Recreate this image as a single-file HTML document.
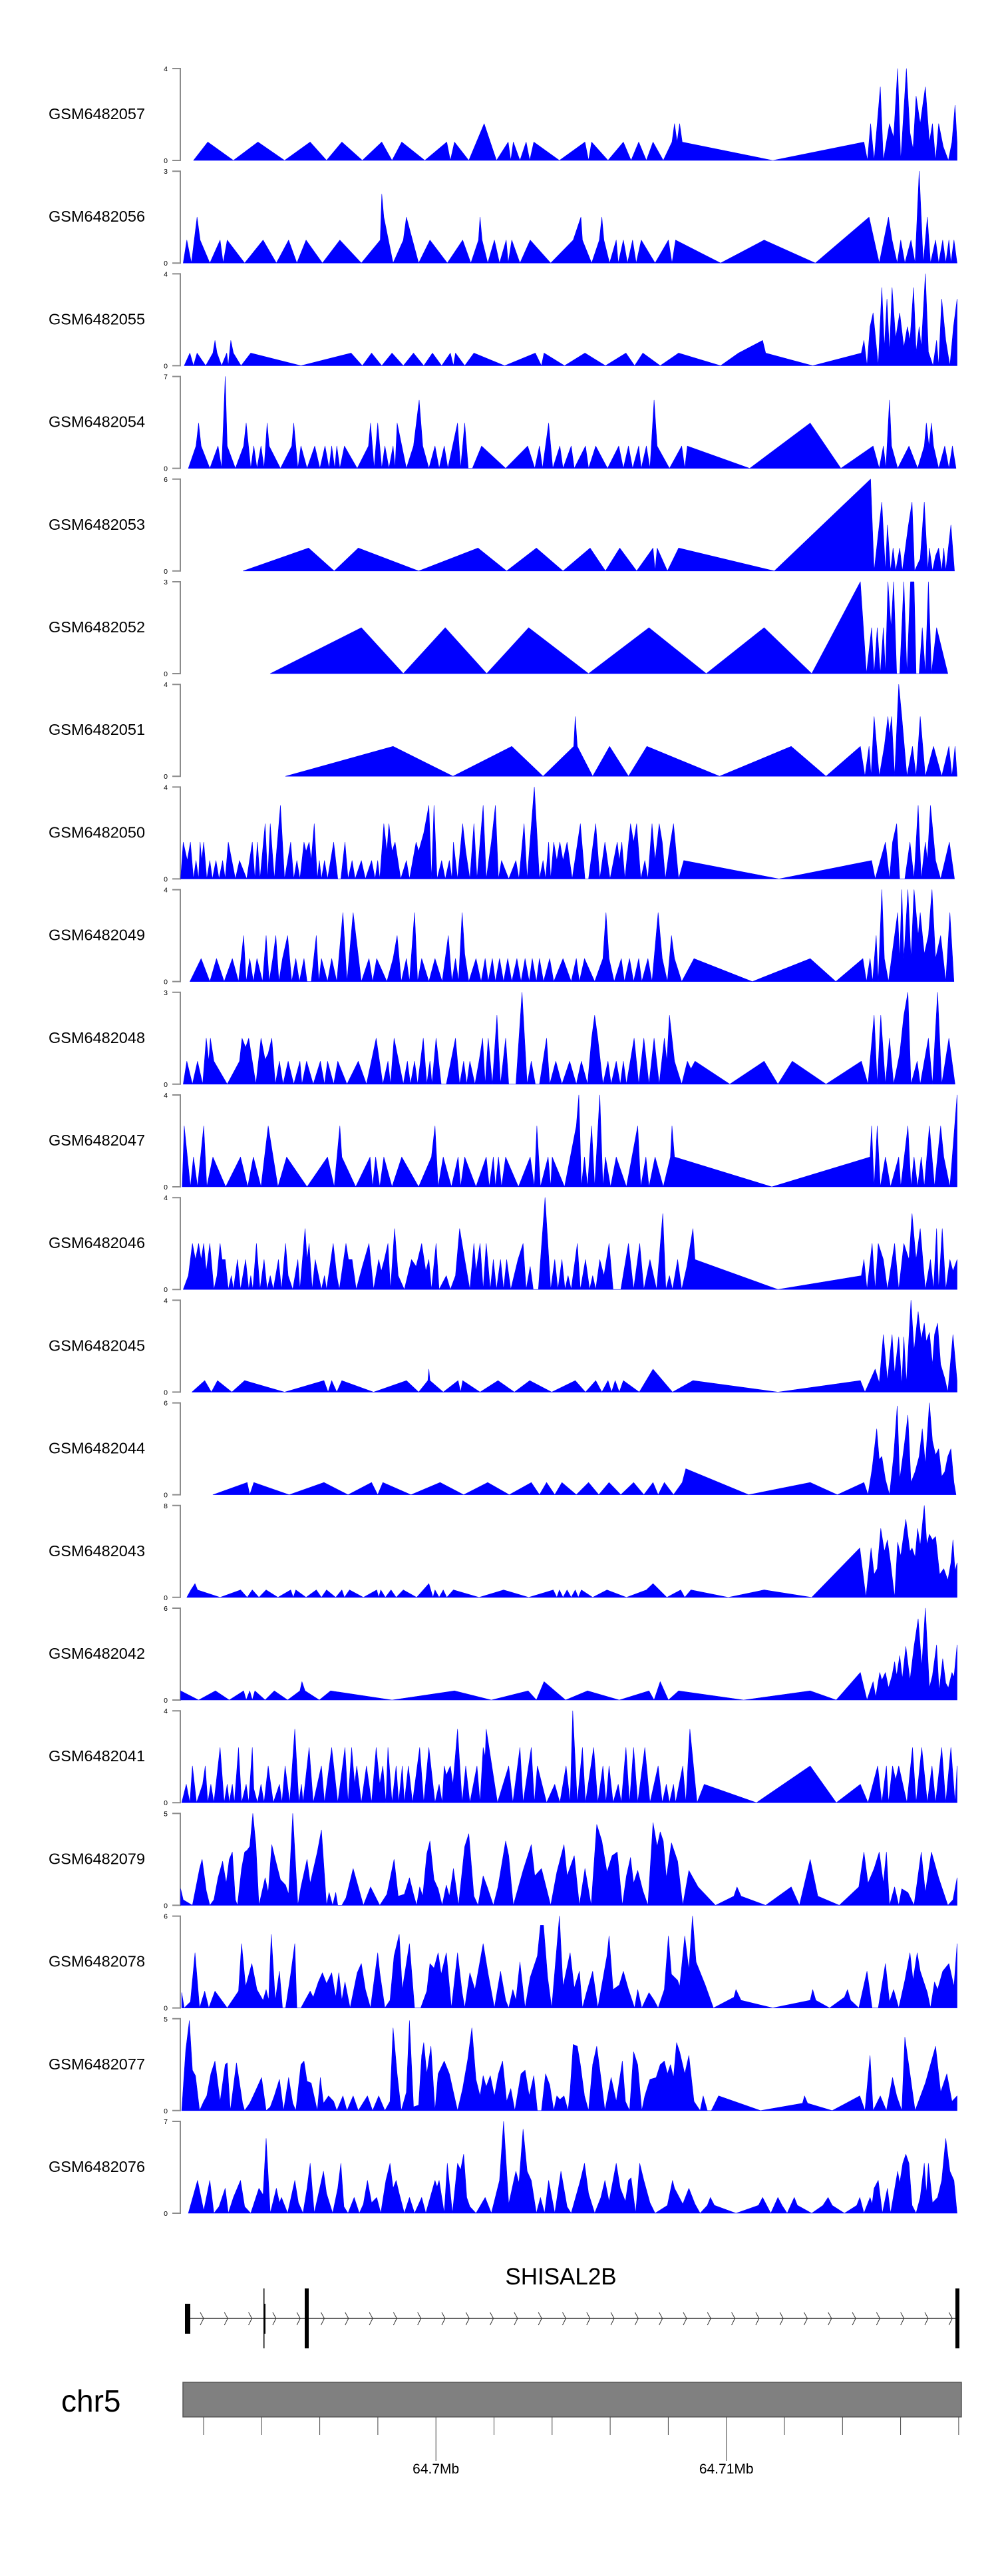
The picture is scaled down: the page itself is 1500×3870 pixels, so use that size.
<!DOCTYPE html>
<html><head><meta charset="utf-8"><title>Coverage tracks SHISAL2B</title>
<style>
html,body{margin:0;padding:0;background:#fff;}
svg{display:block;font-family:"Liberation Sans",Arial,sans-serif;}
</style></head>
<body>
<svg id="chart" xmlns="http://www.w3.org/2000/svg" width="1500" height="3870" viewBox="0 0 1500 3870">
<rect x="0" y="0" width="1500" height="3870" fill="#fff"/>
<g id="tracks"></g>
<g id="gene">
  <text x="843" y="3432" font-size="35" text-anchor="middle" fill="#000">SHISAL2B</text>
  <line x1="282" y1="3483" x2="1439" y2="3483" stroke="#333" stroke-width="1.5"/>
  <g id="chevrons"></g>
  <rect x="278" y="3461" width="8" height="45" fill="#000"/>
  <rect x="396" y="3438" width="1.5" height="90" fill="#000"/>
  <rect x="396" y="3461" width="3" height="45" fill="#000"/>
  <rect x="458" y="3438" width="6" height="90" fill="#000"/>
  <rect x="1436" y="3438" width="6" height="90" fill="#000"/>
</g>
<g id="ideogram">
  <text x="92" y="3623" font-size="46" fill="#000">chr5</text>
  <rect x="275" y="3579" width="1170" height="52" fill="#808080" stroke="#555" stroke-width="1.5"/>
  <g id="gticks"></g>
</g>
</svg>
<script>
// ---- chart data ----
const trackNames = ["GSM6482057","GSM6482056","GSM6482055","GSM6482054","GSM6482053","GSM6482052","GSM6482051","GSM6482050","GSM6482049","GSM6482048","GSM6482047","GSM6482046","GSM6482045","GSM6482044","GSM6482043","GSM6482042","GSM6482041","GSM6482079","GSM6482078","GSM6482077","GSM6482076"];
const trackMax = [4,3,4,7,6,3,4,4,4,3,4,4,4,6,8,6,4,5,6,5,7];

const pos57=[40,68,118,166,218,268,300,330,370,408,428,447,492,535,542,550,578,608,632,655,660,665,678,690,697,705,755,805,812,818,850,880,895,910,925,938,958,975,980,985,990,995,1172,1350,1357,1363,1370,1382,1388,1400,1408,1416,1422,1433,1440,1446,1452,1460,1465,1470,1478,1484,1490,1496,1505,1515,1522,1528,1532];
const val57=[0,.8,0,.8,0,.8,0,.8,0,.8,0,.8,0,.8,0,.8,0,1.6,0,.8,0,.8,0,.8,0,.8,0,.8,0,.8,0,.8,0,.8,0,.8,0,.8,1.6,.8,1.6,.8,0,.8,0,1.6,0,3.2,0,1.6,1,4,0,4,1.2,.5,2.8,1.6,2.4,3.2,.8,1.6,0,1.6,.6,0,.8,2.4,.8];

const pos56=[20,27,36,47,53,72,92,98,106,140,176,202,226,242,260,292,326,368,405,408,412,430,450,456,480,502,536,566,582,597,600,604,615,628,638,651,655,662,678,698,738,782,797,800,818,833,838,842,853,866,870,880,888,898,905,915,942,968,975,982,1070,1155,1255,1360,1380,1398,1405,1415,1422,1430,1442,1450,1458,1466,1474,1480,1490,1496,1504,1510,1516,1520,1526,1532];
const val56=[0,.75,0,1.5,.75,0,.75,0,.75,0,.75,0,.75,0,.75,0,.75,0,.75,2.25,1.5,0,.75,1.5,0,.75,0,.75,0,.75,1.5,.75,0,.75,0,.75,0,.75,0,.75,0,.75,1.5,.75,0,.75,1.5,.75,0,.75,0,.75,0,.75,0,.75,0,.75,0,.75,0,.75,0,1.5,0,1.5,.75,0,.75,0,.75,0,3,0,1.5,0,.75,0,.75,0,.75,0,.75,0];

const pos55=[22,33,40,47,64,78,82,86,95,105,108,113,118,133,152,250,348,370,388,408,428,450,470,490,507,525,542,548,552,570,588,648,708,720,725,765,805,845,885,902,918,952,988,1070,1105,1152,1158,1250,1345,1350,1356,1362,1368,1378,1385,1390,1395,1400,1405,1412,1420,1428,1435,1440,1447,1452,1458,1462,1470,1476,1485,1492,1496,1502,1510,1518,1525,1532];
const val55=[0,.55,0,.55,0,.55,1.1,.55,0,.55,0,1.1,.55,0,.55,0,.55,0,.55,0,.55,0,.55,0,.55,0,.55,0,.55,0,.55,0,.55,0,.55,0,.55,0,.55,0,.55,0,.55,0,.55,1.1,.55,0,.55,1.1,0,1.7,2.3,0,3.4,.8,2.9,.6,3.4,1.2,2.3,.8,1.7,1.1,3.4,.6,1.7,.8,4,.6,0,1.1,0,2.9,1.1,0,1.7,2.9];

const pos54=[30,45,50,55,72,88,95,102,106,122,138,143,152,158,164,172,178,184,188,210,232,236,244,250,262,277,287,297,305,310,316,320,326,335,360,382,386,393,400,408,414,422,430,434,438,456,470,481,488,500,512,520,530,537,556,562,570,577,585,603,650,693,707,716,722,734,742,756,762,778,784,806,812,826,849,871,880,890,898,910,915,925,932,940,946,970,994,1000,1005,1127,1245,1305,1368,1380,1388,1393,1400,1404,1416,1438,1455,1468,1472,1477,1482,1486,1496,1508,1516,1523,1530];
const val54=[0,1.7,3.45,1.7,0,1.7,0,7,1.7,0,1.7,3.45,0,1.7,0,1.7,0,3.45,1.7,0,1.7,3.45,0,1.7,0,1.7,0,1.7,0,1.7,0,1.7,0,1.7,0,1.7,3.45,0,3.45,0,1.7,0,1.7,0,3.45,0,1.7,5.2,1.7,0,1.7,0,1.7,0,3.45,0,3.45,0,0,1.7,0,1.7,0,1.7,0,3.45,0,1.7,0,1.7,0,1.7,0,1.7,0,1.7,0,1.7,0,1.7,0,1.7,0,5.2,1.7,0,1.7,0,1.7,0,3.45,0,1.7,0,1.7,0,5.2,1.7,0,1.7,0,1.7,3.45,1.7,3.45,1.7,0,1.7,0,1.7,0];

const pos53=[137,265,315,362,480,596,652,710,762,815,845,873,906,938,942,946,966,988,1175,1363,1370,1385,1392,1396,1402,1407,1412,1420,1425,1437,1444,1449,1460,1468,1475,1478,1484,1490,1496,1502,1506,1510,1520,1527];
const val53=[0,1.5,0,1.5,0,1.5,0,1.5,0,1.5,0,1.5,0,1.5,0,1.5,0,1.5,0,6,0,4.5,0,3,0,1.5,0,1.5,0,3,4.5,0,.8,4.5,0,1.5,0,1,1.5,0,1.5,0,3,0];

const pos52=[190,368,450,532,613,695,812,930,1042,1155,1248,1343,1355,1365,1370,1376,1382,1388,1392,1397,1403,1408,1414,1420,1428,1434,1441,1448,1452,1458,1464,1470,1476,1482,1492,1514];
const val52=[0,1.5,0,1.5,0,1.5,0,1.5,0,1.5,0,3,0,1.5,0,1.5,0,1.5,0,3,1.5,3,0,0,3,0,3,3,0,0,1.5,0,3,0,1.5,0];

const pos51=[220,430,547,662,723,783,786,790,820,853,890,926,1068,1208,1276,1343,1352,1360,1364,1370,1380,1390,1397,1400,1404,1410,1418,1424,1434,1445,1452,1460,1470,1486,1502,1516,1522,1528,1532];
const val51=[0,1.3,0,1.3,0,1.3,2.6,1.3,0,1.3,0,1.3,0,1.3,0,1.3,0,1.3,0,2.6,0,1.3,2.6,1.8,2.6,0,4,2.6,0,1.3,0,2.6,0,1.3,0,1.3,0,1.3,0];

const pos50=[15,20,28,34,40,45,50,53,56,60,66,72,77,84,90,97,102,108,122,130,144,155,160,165,170,180,185,190,198,210,218,230,236,242,248,256,260,266,270,276,282,286,290,296,302,314,322,328,336,342,350,356,368,376,388,395,400,404,412,418,422,428,434,445,456,462,475,480,490,500,505,510,516,525,532,540,545,548,556,566,572,580,588,594,606,612,622,630,636,642,656,670,676,686,692,706,716,723,728,734,738,744,750,756,762,770,780,796,805,812,826,834,844,854,868,872,877,883,894,900,906,914,922,928,936,942,950,956,962,972,978,988,998,1184,1365,1372,1392,1400,1406,1414,1420,1430,1440,1448,1456,1462,1470,1474,1480,1490,1500,1517,1527];
const val50=[0,1.6,.8,1.6,0,.8,0,1.6,.8,1.6,0,.8,0,.8,0,.8,0,1.6,0,.8,0,1.6,0,1.6,0,2.4,0,2.4,0,3.2,0,1.6,0,.8,0,1.6,1.2,1.6,.8,2.4,0,.8,0,.8,0,1.6,0,0,1.6,0,.8,0,.8,0,.8,0,.8,0,2.4,1.2,2.4,1.2,1.6,0,.8,0,1.6,1.2,2,3.2,0,3.2,0,.8,0,.8,0,1.6,0,2.4,1.2,0,2.4,0,3.2,0,1.6,3.2,0,.8,0,.8,0,2.4,0,4,0,.8,0,1.6,0,1.6,.8,1.6,.8,1.6,0,2.4,0,0,2.4,0,1.6,0,1.6,.8,1.6,0,2.4,1.6,2.4,0,.8,0,2.4,.8,2.4,1.6,0,1.6,2.4,0,.8,0,.8,0,1.6,0,1.6,2.4,0,0,1.6,0,3.2,0,1.6,.8,3.2,.8,0,1.6,0];

const pos49=[33,55,72,85,100,116,128,138,143,150,157,164,175,182,188,195,201,207,214,224,232,240,247,256,262,270,280,285,290,302,310,320,332,340,352,368,383,390,398,418,430,438,446,456,462,472,478,486,500,512,526,538,545,552,558,565,570,578,592,602,610,616,624,630,638,646,654,662,672,680,688,696,702,710,716,724,736,744,762,778,788,794,804,824,840,846,852,862,876,882,892,900,910,916,928,936,948,956,966,974,980,994,1018,1132,1245,1295,1348,1355,1362,1367,1374,1378,1385,1390,1398,1410,1416,1420,1424,1428,1436,1442,1448,1456,1460,1468,1476,1483,1490,1500,1505,1510,1518,1526];
const val49=[0,1,0,1,0,1,0,2,0,1,0,1,0,2,0,1,2,0,1,2,0,1,0,1,0,0,2,0,1,0,1,0,3,0,3,0,1,0,1,0,1,2,0,1,0,3,0,1,0,1,0,2,0,1,0,3,1.2,0,1,0,1,0,1,0,1,0,1,0,1,0,1,0,1,0,1,0,1,0,1,0,1,0,1,0,1,3,1,0,1,0,1,0,1,0,1,0,3,1,0,2,1,0,1,0,1,0,1,0,1,0,2,0,4,1,0,2,3,1,4,1,4,1,4,2,3,1.2,2,4,1,2,1,0,3,0];

const pos48=[20,27,38,48,58,65,70,73,80,106,130,135,142,148,162,172,180,186,193,200,208,215,225,236,248,252,261,274,288,296,302,314,322,340,362,378,397,410,420,425,432,450,458,464,472,478,489,496,502,506,514,524,534,552,560,568,574,580,590,598,605,610,616,624,633,640,650,656,670,682,692,700,708,716,730,736,748,760,775,788,798,810,818,824,830,840,850,856,866,874,880,886,901,910,920,930,940,950,960,965,970,980,994,1005,1012,1020,1088,1155,1182,1210,1276,1345,1358,1370,1376,1383,1392,1400,1408,1420,1428,1436,1442,1454,1460,1476,1484,1494,1502,1516,1528];
const val48=[0,.75,0,.75,0,1.5,.75,1.5,.75,0,.75,1.5,1.2,1.5,0,1.5,.8,1,1.5,0,.75,0,.75,0,.75,0,.75,0,.75,0,.75,0,.75,0,.75,0,1.5,0,.75,0,1.5,0,.75,0,.75,0,1.5,0,.75,0,1.5,0,0,1.5,0,.75,0,.75,0,.75,1.5,0,1.5,0,2.25,0,1.5,0,0,3,0,.75,0,0,1.5,0,.75,0,.75,0,.75,0,1.5,2.25,1.5,0,.75,0,.75,0,.75,0,1.5,0,1.5,0,1.5,0,1.5,.75,2.25,.75,0,.75,.5,.75,0,.75,0,.75,0,.75,0,2.25,0,2.25,0,1.5,0,1,2.25,3,0,.75,0,1.5,0,3,0,1.5,0];

const pos47=[18,22,34,40,48,60,66,78,103,132,146,157,172,186,205,222,262,302,315,326,330,357,385,390,396,404,412,428,447,480,505,512,518,528,544,557,562,570,592,612,618,626,630,636,642,650,675,698,706,711,718,733,738,741,765,788,793,798,804,810,818,824,834,840,845,855,866,886,908,914,924,930,942,958,972,975,980,1170,1362,1365,1370,1376,1382,1392,1402,1418,1422,1436,1442,1448,1455,1462,1468,1478,1488,1500,1506,1518,1532];
const val47=[0,2.65,0,1.3,0,2.65,0,1.3,0,1.3,0,1.3,0,2.65,0,1.3,0,1.3,0,2.65,1.3,0,1.3,0,1.3,0,1.3,0,1.3,0,1.3,2.65,0,1.3,0,1.3,0,1.3,0,1.3,0,1.3,0,1.3,0,1.3,0,1.3,0,2.65,0,1.3,0,1.3,0,2.65,4,0,1.3,0,2.65,0,4,0,1.3,0,1.3,0,2.65,0,1.3,0,1.3,0,1.3,2.65,1.3,0,1.3,2.65,0,2.65,0,1.3,0,1.3,0,2.65,0,1.3,0,1.3,0,2.65,0,2.65,1.3,0,4];

const pos46=[20,30,38,44,50,55,60,65,72,80,86,92,96,102,108,114,118,126,132,142,148,152,156,163,170,178,184,190,196,206,212,220,225,234,244,248,258,262,266,272,278,290,296,300,313,320,325,338,343,350,358,370,383,392,402,407,413,420,425,433,440,452,466,475,486,494,500,505,514,520,534,542,552,560,570,580,588,592,600,606,612,620,626,632,640,646,652,660,674,684,690,698,704,714,727,738,746,752,760,766,772,778,790,796,806,814,820,826,834,842,852,860,875,890,900,912,920,932,945,957,963,970,976,986,994,1004,1016,1020,1182,1345,1350,1356,1366,1372,1378,1388,1396,1410,1418,1428,1438,1444,1452,1460,1470,1480,1486,1492,1496,1503,1510,1518,1524,1532];
const val46=[0,.6,2,1.3,2,1.3,2,.8,2,0,.6,2,1.3,1.3,0,.6,0,1.3,0,1.3,0,.6,0,2,0,1.3,0,.6,0,1.3,0,2,.6,0,1.3,0,2.65,1.3,2,0,1.3,0,.6,0,2,.6,0,2,1.3,1.3,0,1,2,0,1.3,.8,1.3,2,0,2.65,.6,0,1.3,1,2,.8,1.3,0,2,0,.6,0,.6,2.65,1.3,0,2,.8,2,0,2,0,1.3,0,1.3,0,1.3,0,1.3,2,0,1,0,0,4,0,1.3,0,1.3,0,.6,0,2,0,1.3,0,.6,0,1.3,.6,2,0,0,2,0,2,0,1.3,0,3.3,0,.6,0,1.3,0,1,2.65,1.3,0,.6,1.3,0,2,0,2,1.3,0,2,0,2,1.3,3.3,1.3,2.65,0,1.3,0,2.65,0,2.65,0,1.3,.8,1.3];

const pos45=[37,62,75,87,115,140,218,295,303,310,320,330,392,456,480,498,500,502,528,557,562,566,600,635,667,697,740,786,806,826,838,850,857,864,872,880,911,938,976,1016,1182,1343,1352,1372,1380,1388,1396,1405,1410,1418,1424,1428,1433,1442,1448,1456,1462,1468,1472,1478,1484,1488,1494,1500,1508,1514,1524,1532];
const val45=[0,.5,0,.5,0,.5,0,.5,0,.5,0,.5,0,.5,0,.5,1,.5,0,.5,0,.5,0,.5,0,.5,0,.5,0,.5,0,.5,0,.5,0,.5,0,1,0,.5,0,.5,0,1,.4,2.5,.5,2.5,.8,2.4,.3,2.4,.4,4,1.8,3.5,2.3,3,2.2,2.6,1.2,2.5,3,1.2,.6,0,2.5,.5];

const pos44=[78,145,150,158,227,295,342,388,400,410,465,522,568,615,657,700,716,730,746,760,788,812,832,852,875,900,920,938,948,960,978,995,1002,1125,1245,1298,1350,1358,1366,1375,1380,1385,1392,1400,1408,1415,1420,1428,1436,1442,1450,1458,1464,1470,1478,1484,1490,1496,1502,1508,1514,1520,1526,1530];
const val44=[0,.8,0,.8,0,.8,0,.8,0,.8,0,.8,0,.8,0,.8,0,.8,0,.8,0,.8,0,.8,0,.8,0,.8,0,.8,0,.8,1.7,0,.8,0,.8,0,1.7,4.3,2.3,2.5,1,0,2.5,5.8,1,3,5.2,.8,1.5,2.5,4.3,2,6,3.5,2.6,3,1.2,1.5,2.5,3,.8,0];

const pos43=[27,35,43,48,92,132,145,155,168,182,205,230,235,240,260,280,290,300,318,330,335,345,372,398,402,406,415,426,436,450,476,500,508,512,520,528,535,548,598,646,695,743,750,755,762,770,778,786,792,798,820,848,886,925,938,965,992,1000,1012,1085,1155,1248,1342,1354,1364,1370,1376,1383,1390,1396,1402,1410,1416,1422,1426,1432,1440,1444,1450,1455,1460,1468,1473,1478,1484,1490,1498,1506,1514,1520,1524,1528,1532];
const val43=[0,.65,1.2,.65,0,.65,0,.65,0,.65,0,.65,0,.65,0,.65,0,.65,0,.65,0,.65,0,.65,0,.65,0,.65,0,.65,0,1.2,0,.65,0,.65,0,.65,0,.65,0,.65,0,.65,0,.65,0,.65,0,.65,0,.65,0,.65,1.2,0,.65,0,.65,0,.65,0,4.3,0,4.3,2,2.5,6,4,5,3,0,4.8,3.6,4.9,6.8,4,4.3,3.5,6,4.5,8,4.6,5.5,5,5.3,2,2.5,1.5,3,5,2.3,3];

const pos42=[15,50,83,110,138,143,150,155,160,180,198,224,248,252,258,286,308,428,550,622,694,710,725,767,810,872,930,940,952,968,988,1115,1245,1296,1343,1356,1368,1373,1381,1385,1392,1398,1405,1410,1414,1420,1425,1432,1440,1448,1456,1463,1470,1478,1484,1492,1497,1504,1510,1515,1522,1526,1532];
const val42=[.6,0,.6,0,.6,0,.6,0,.6,0,.6,0,.6,1.2,.6,0,.6,0,.6,0,.6,0,1.2,0,.6,0,.6,0,1.2,0,.6,0,.6,0,1.8,0,1.2,.2,1.8,1.3,1.8,.8,1.6,2.5,1.6,2.9,1.4,3.5,1.3,3.5,5.3,2.2,6,.8,1.6,3.6,.6,2.7,1.1,.8,1.8,1.5,3.6];

const pos41=[17,26,33,38,46,58,63,68,74,80,92,100,106,110,116,120,128,134,143,148,155,158,165,172,178,186,196,208,213,219,228,238,246,251,254,266,274,290,296,310,322,336,342,349,355,359,368,378,388,397,404,410,416,420,428,436,441,448,452,460,468,482,490,500,512,520,526,530,534,542,547,556,565,572,580,594,600,606,610,612,634,656,664,678,684,700,706,712,730,746,756,768,776,781,790,800,806,822,830,840,846,852,860,870,876,885,892,900,908,922,932,948,956,964,970,978,982,996,1002,1010,1024,1038,1140,1245,1296,1343,1358,1377,1385,1394,1398,1406,1412,1418,1434,1445,1452,1463,1474,1483,1490,1502,1510,1520,1528,1532];
const val41=[0,.8,0,1.6,0,.8,1.6,0,.8,0,2.4,0,.8,0,.8,0,2.4,0,.8,0,2.4,.6,0,.8,0,1.6,0,.8,0,1.6,0,3.2,0,.8,0,2.4,0,1.6,0,2.4,0,2.4,0,2.4,.8,1.6,0,1.6,0,2.4,.8,1.6,0,2.4,0,1.6,0,1.6,0,1.6,0,2.4,0,2.4,0,.8,0,1.6,1.2,1.6,.8,3.2,0,1.6,0,1.6,0,2.4,2,3.2,0,1.6,0,2.4,0,2.4,0,1.6,0,.8,0,1.6,0,4,0,2.4,0,2.4,0,1.6,0,1.6,0,.8,0,2.4,0,2.4,0,2.4,0,1.6,0,.8,0,.8,0,1.6,0,3.2,0,.8,0,1.6,0,.8,0,1.6,0,1.6,0,1.6,1,1.6,0,2.4,0,2.4,0,1.6,0,2.4,0,2.4,0,1.6];

const pos79=[15,20,38,52,57,65,72,80,88,97,104,110,116,122,126,134,140,145,150,156,162,168,176,180,186,193,200,210,220,226,234,244,250,262,268,282,290,300,305,312,318,322,330,338,352,362,372,386,404,418,432,440,452,462,470,476,482,488,496,502,510,518,526,534,540,548,558,570,578,588,596,606,614,626,635,650,656,665,684,700,707,720,738,750,764,770,784,794,805,817,828,838,848,858,868,878,886,894,900,908,918,928,938,946,952,958,964,974,986,996,1008,1026,1060,1096,1102,1110,1158,1208,1224,1245,1260,1302,1340,1350,1358,1370,1380,1388,1394,1400,1410,1418,1424,1436,1448,1462,1470,1482,1496,1514,1524,1532];
const val79=[.9,.3,0,2,2.5,.8,0,.3,1.5,2.4,1.2,2.5,2.9,.3,0,2,2.9,3,3.2,5,3.3,0,1,1.5,.7,3.3,2.5,1.4,1.1,.6,5,0,1,2.5,1.2,2.9,4.1,0,.7,0,.7,0,0,.4,2,1,0,1,0,.6,2.5,.5,.6,1.5,.6,0,1,.5,2.8,3.5,1.4,.9,0,1.1,.5,2,0,3.2,3.9,.5,0,1.6,1,0,1,3.5,2.7,0,1.9,3.3,1.6,2,0,1.8,3.3,1.6,2.7,0,2,0,4.4,3.5,1.8,2.7,2.9,0,1.6,2.6,1.2,1.9,.8,0,4.5,3.2,4,3.5,1.5,3.4,2.4,0,1.9,1,0,.5,1,.5,0,1,0,2.5,.5,0,1,2.9,1.2,2,2.9,1.2,2.9,0,1,0,.9,.7,0,2.9,.7,2.9,1.5,0,.3,1.5];

const pos78=[17,22,34,43,52,62,70,82,106,128,134,142,154,164,176,182,187,192,200,208,214,220,230,238,242,250,258,268,274,284,292,300,310,318,324,330,336,346,360,368,376,386,400,404,414,424,432,442,448,462,472,484,496,502,510,518,524,534,544,556,565,570,580,590,606,616,628,640,650,656,664,670,678,688,698,712,718,724,732,740,755,762,776,784,794,800,808,820,830,848,852,860,872,880,890,902,908,916,930,940,948,960,968,974,986,990,1000,1008,1015,1022,1040,1056,1096,1100,1110,1172,1245,1250,1256,1283,1312,1318,1324,1340,1356,1366,1378,1392,1400,1408,1418,1430,1440,1446,1454,1460,1474,1480,1488,1494,1504,1516,1526,1532];
const val78=[1,0,.4,3.6,0,1.1,0,1.1,0,1.1,4.2,1.4,2.9,1.2,.5,1.2,.5,4.8,.5,2.4,0,0,2.2,4.2,0,0,.5,1.1,.7,1.7,2.3,1.6,2.3,.7,2.3,.5,1.7,0,2.3,2.9,1.2,0,3.6,2.3,0,.5,3.4,4.8,1.2,4.2,0,0,1.1,2.9,2.6,3.6,2.2,3.6,0,3.6,1,0,2.3,1.2,4.2,2.2,0,2.4,.5,0,1.2,.5,3,0,2,3.4,5.4,5.4,2,0,6,1.4,3.6,1.3,2.4,0,1,2.4,0,3.4,4.7,1.2,1.5,2.4,1.2,0,1.2,0,1,.5,0,1.2,4.7,2.2,1.8,1.4,4.7,2.5,6,3,1.5,0,.7,1.2,.5,0,.5,1.2,.5,0,.7,1.2,.5,0,2.4,0,0,2.9,.4,1.2,0,1.8,3.6,1.8,3.6,2.4,1,0,1.7,1.2,2.4,2.9,1.4,4.2];

const pos77=[17,25,32,38,44,52,60,66,74,82,92,102,106,112,124,136,140,150,160,173,182,190,198,208,216,226,234,240,250,256,262,270,282,288,294,304,314,320,332,340,352,362,380,390,402,414,424,430,438,446,456,462,470,480,486,490,496,504,512,518,530,540,548,556,566,576,584,592,600,606,612,620,628,636,644,652,660,668,680,688,696,705,712,720,728,736,744,750,756,764,772,776,782,790,796,804,812,820,828,836,844,856,866,878,884,892,900,908,916,922,932,944,952,960,966,972,978,984,990,1000,1008,1018,1030,1036,1044,1052,1066,1148,1230,1234,1240,1288,1342,1352,1362,1368,1382,1394,1406,1414,1424,1430,1440,1450,1470,1490,1500,1512,1522,1532];
const val77=[0,3.3,4.9,2.2,1.9,0,.5,.8,2,2.7,.5,2.5,2.6,0,2.6,.4,0,.4,1,1.8,0,.2,.8,1.7,0,1.8,.4,0,2.5,2.7,1.6,1.5,0,1.8,.4,.8,.5,0,.8,0,.8,0,.8,0,.8,0,.5,4.5,2,0,1,4.9,.2,.3,3,3.7,2,3.5,0,2,2.7,2,1,0,1.2,2.8,4.5,1.7,.8,1.9,1.3,1.9,.8,2,2.7,.5,1.2,0,2,2.2,.8,1.9,0,0,2,1.4,0,.8,.6,.8,0,1.1,3.6,3.5,2.5,.8,0,2.5,3.5,1.8,0,1.8,.5,2.7,.5,0,3.2,2.5,0,.8,1.7,1.8,2.5,2.7,2,2.5,1.8,3.7,3.2,2,3,.5,0,.8,0,0,.8,0,.4,.8,.4,0,.8,0,3,0,.8,0,1.8,.8,0,4,2,0,1.5,3.5,1,2,.5,.8];

const pos76=[30,48,60,72,80,90,102,108,118,132,140,152,168,176,182,190,202,208,212,224,238,245,254,262,268,276,294,300,312,322,328,334,342,354,364,372,380,388,398,406,416,424,430,436,442,452,462,472,486,494,512,516,520,530,536,546,556,562,568,574,580,592,610,622,638,646,656,666,670,676,684,692,700,710,718,726,734,746,758,770,778,796,804,812,824,836,844,852,866,874,884,890,895,904,912,920,932,942,966,976,980,996,1008,1020,1030,1044,1050,1058,1100,1144,1152,1168,1182,1190,1200,1214,1220,1248,1270,1280,1288,1312,1336,1342,1350,1362,1366,1370,1378,1386,1396,1402,1416,1420,1426,1432,1438,1444,1452,1460,1468,1472,1476,1484,1494,1502,1510,1518,1526,1532];
const val76=[0,2.5,.2,2.5,0,.5,1.9,0,1.2,2.5,.5,0,1.9,1.4,5.7,0,1.9,.8,1.2,0,2.5,.8,0,1.9,3.8,0,3.2,1.5,0,1.9,3.8,.5,0,1.2,0,.7,2.5,.8,1.2,0,2.5,3.8,1.9,2.5,1.5,0,1.2,0,1.2,0,2.5,2,2.5,0,3.8,0,3.8,3.3,4.5,1.2,.5,0,1.2,0,2.5,7,.7,2.5,3.2,2.3,6.4,3.2,2.5,0,1.2,0,2.5,0,3.2,.5,0,2.5,3.8,1.5,0,1.2,2.5,.9,3.8,1.9,.9,2.5,2.7,0,3.8,2.5,.8,0,.6,2.5,1.9,.7,1.9,.7,0,.6,1.2,.6,0,.6,1.2,0,1.2,.6,0,1.2,.6,0,.6,1.2,.6,0,.6,1.2,0,1.2,.7,1.9,2.5,0,1.9,0,3.2,2.3,3.8,4.5,3.8,.6,0,1.2,3.8,1.5,3.8,.8,1.2,2.5,5.7,3.2,2.5,0];

const trackPos=[pos57,pos56,pos55,pos54,pos53,pos52,pos51,pos50,pos49,pos48,pos47,pos46,pos45,pos44,pos43,pos42,pos41,pos79,pos78,pos77,pos76];
const trackVal=[val57,val56,val55,val54,val53,val52,val51,val50,val49,val48,val47,val46,val45,val44,val43,val42,val41,val79,val78,val77,val76];

const genomeTickLabels=["64.7Mb","64.71Mb"];
const genomeMajorIndex=[4,9];
const genomeTickCount=14;

// ---- layout / scales ----
const NS="http://www.w3.org/2000/svg";
const DOM_MIN=0, DOM_MAX=1547, PX_LEFT=260, PX_RIGHT=1450;
function xScale(d){return PX_LEFT+(d-DOM_MIN)/(DOM_MAX-DOM_MIN)*(PX_RIGHT-PX_LEFT);}
const TRACK_TOP=103, TRACK_PITCH=154.2, TRACK_H=138;
function yScale(v,i){const top=TRACK_TOP+TRACK_PITCH*i;return top+TRACK_H-(v/trackMax[i])*TRACK_H;}
function mk(tag,attrs){const e=document.createElementNS(NS,tag);for(const k in attrs)e.setAttribute(k,attrs[k]);return e;}

const tg=document.getElementById('tracks');
for(let i=0;i<trackNames.length;i++){
  const top=TRACK_TOP+TRACK_PITCH*i, base=top+TRACK_H;
  const g=mk('g',{});
  
  
  const lab=mk('text',{x:73,y:top+76,'font-size':23.5,fill:'#000'});
  
  
  lab.textContent=trackNames[i];
  g.appendChild(lab);
  const ax=mk('path',{d:`M259 ${top} H271 V${base} H259`,fill:'none',stroke:'#8c8c8c','stroke-width':2});
  
  
  g.appendChild(ax);
  const tmax=mk('text',{x:252,y:top+4,'font-size':10.5,'text-anchor':'end',fill:'#000'});
  
  
  tmax.textContent=String(trackMax[i]);
  g.appendChild(tmax);
  const tmin=mk('text',{x:252,y:base+4,'font-size':10.5,'text-anchor':'end',fill:'#000'});
  
  
  tmin.textContent='0';
  g.appendChild(tmin);
  const P=trackPos[i], V=trackVal[i], n=Math.min(P.length,V.length);
  let d=`M${xScale(P[0]).toFixed(1)} ${base}`;
  for(let k=0;k<n;k++){d+=` L${xScale(P[k]).toFixed(1)} ${yScale(V[k],i).toFixed(1)}`;}
  d+=` L${xScale(P[n-1]).toFixed(1)} ${base} Z`;
  const area=mk('path',{d:d,fill:'#0000ff',stroke:'#0000ff','stroke-width':0.6,'stroke-linejoin':'round'});
  
  
  g.appendChild(area);
  tg.appendChild(g);
}

// strand chevrons
const cg=document.getElementById('chevrons');
for(let x=301;x<=1428;x+=36.3){
  const c=mk('path',{d:`M${x.toFixed(1)} 3474 L${(x+5).toFixed(1)} 3483 L${x.toFixed(1)} 3493`,fill:'none',stroke:'#333','stroke-width':1});
  
  
  cg.appendChild(c);
}

// genome axis ticks
const gt=document.getElementById('gticks');
for(let k=0;k<genomeTickCount;k++){
  const x=306+k*87.3;
  const mj=genomeMajorIndex.indexOf(k);
  const t=mk('line',{x1:x,y1:3631,x2:x,y2:mj>=0?3697:3658,stroke:'#444','stroke-width':1});
  
  
  gt.appendChild(t);
  if(mj>=0){
    const l=mk('text',{x:x,y:3716,'font-size':21,'text-anchor':'middle',fill:'#000'});
    
    
    l.textContent=genomeTickLabels[mj];
    gt.appendChild(l);
  }
}
</script>
</body></html>
